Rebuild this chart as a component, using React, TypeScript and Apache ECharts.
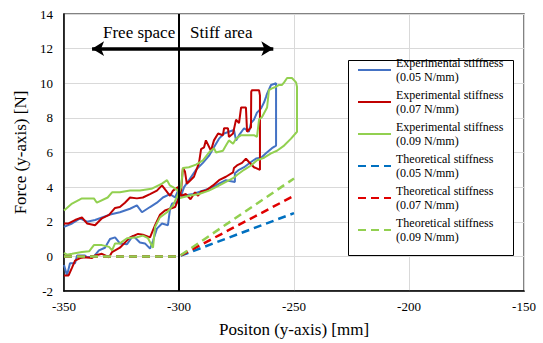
import React, { useEffect, useRef } from 'react';
import * as echarts from 'echarts';

const seriesNames = [
  'Experimental stiffness\n(0.05 N/mm)',
  'Experimental stiffness\n(0.07 N/mm)',
  'Experimental stiffness\n(0.09 N/mm)',
  'Theoretical stiffness\n(0.05 N/mm)',
  'Theoretical stiffness\n(0.07 N/mm)',
  'Theoretical stiffness\n(0.09 N/mm)',
];

const seriesColors = ['#4472C4', '#C00000', '#92D050', '#0070C0', '#E00000', '#92D050'];

// Experimental 0.05 N/mm (loop: forward lower-left, upper-right, drop, lower-right, upper-left)
const blueExp: [number, number][] = [
  [-350, -0.5], [-348.7, -1.1], [-347.4, -0.4], [-345.2, -0.4], [-344.3, 0.05], [-340.9, 0.05],
  [-340, -0.05], [-337, 0], [-334.8, 0.35], [-332.2, 0.5], [-330, 1.0], [-327.8, 1.1],
  [-325.7, 0.75], [-322.6, 0.7], [-320, 1.2], [-317, 0.8], [-314.8, 0.75], [-312.6, 0.45],
  [-311.3, 0.9], [-309.6, 1.6], [-307.4, 1.9], [-304.8, 1.8], [-303.9, 2.75], [-303, 3.05],
  [-300.9, 3.1], [-300, 3.6],
  [-299.1, 3.5], [-297.8, 4.0], [-295.7, 4.4], [-292.6, 5.0], [-289.6, 5.4], [-287, 5.8],
  [-284.8, 6.3], [-282.6, 6.8], [-280.4, 7.1], [-278.3, 7.2], [-276.1, 7.3], [-275.2, 6.7],
  [-273.9, 7.0], [-271.7, 7.4], [-269.6, 7.2], [-268.7, 7.7], [-267.4, 7.9], [-266.1, 8.3],
  [-264.3, 8.55], [-263, 8.9], [-262.2, 9.2], [-261.7, 9.4], [-260, 9.9], [-257.8, 10.0],
  [-257.8, 6.4],
  [-259.6, 6.25], [-262.2, 5.95], [-264.3, 5.7], [-266.5, 5.65], [-268.7, 5.45], [-271.7, 5.15],
  [-273.9, 5.0], [-275.7, 4.8], [-275.7, 4.3], [-279.6, 4.4], [-282.6, 4.2], [-285.2, 4.0],
  [-289.6, 3.8], [-293.9, 3.6], [-298.3, 3.5], [-300, 3.6],
  [-300.4, 3.8], [-301.7, 3.4], [-303.9, 3.6], [-307, 3.4], [-309.6, 3.1], [-312.6, 2.85],
  [-316.1, 2.55], [-318.3, 2.95], [-321.3, 2.75], [-325.7, 2.55], [-330.4, 2.4], [-336.5, 2.1],
  [-340, 2.0], [-343, 2.2], [-346.5, 1.9], [-350, 1.7],
];

// Experimental 0.07 N/mm
const redExp: [number, number][] = [
  [-350, -1.1], [-348, -1.1], [-346.5, -0.65], [-345.2, -0.25], [-343, -0.1], [-340.9, -0.05],
  [-337.8, -0.1], [-336.5, 0.05], [-333.5, 0.15], [-330.4, -0.05], [-329.1, 0.25], [-325.7, 0.5],
  [-321.3, 1.1], [-317.8, 1.3], [-315.7, 1.25], [-312.6, 1.1], [-310.4, 1.8], [-308.3, 2.4],
  [-306.1, 2.65], [-303.9, 2.75], [-301.7, 2.85], [-300, 3.4],
  [-299.1, 3.8], [-298.3, 5.1], [-297.4, 4.9], [-296.6, 4.2], [-295, 4.4], [-293.5, 4.6],
  [-291.3, 5.4], [-290.4, 6.2],
  [-289.1, 6.3], [-288.3, 6.7], [-286.1, 6.1], [-284.8, 6.7], [-283, 7.1], [-280.9, 7.0],
  [-280.4, 7.4], [-278.7, 7.4], [-278.3, 6.9], [-276.5, 7.1], [-275.2, 7.9], [-273.9, 7.7],
  [-273, 8.6], [-270.9, 8.6], [-270.4, 7.2], [-268.7, 7.45], [-268.6, 9.5], [-268.3, 9.6],
  [-265.2, 9.6], [-264.8, 9.3],
  [-264.8, 5.0],
  [-267.4, 5.15], [-269.6, 5.45], [-270.9, 5.65], [-272.6, 5.4], [-274.8, 5.25], [-276.1, 5.1],
  [-276.5, 4.85], [-279.6, 4.6], [-282.6, 4.4], [-285.2, 4.1], [-288.3, 3.8], [-290.4, 3.75],
  [-291.7, 3.5], [-293, 3.7], [-295, 3.3], [-297, 3.6], [-299, 3.5], [-300, 3.9],
  [-300.4, 4.0], [-302.6, 3.8], [-303.9, 3.5], [-307.4, 4.1], [-309.6, 3.8], [-312.6, 3.6],
  [-315.7, 3.4], [-318.3, 3.35], [-321.3, 3.4], [-323.5, 3.1], [-325.7, 2.85], [-327.8, 2.8],
  [-330.4, 2.4], [-333.5, 2.2], [-336.5, 1.8], [-340, 1.9], [-342.2, 2.25], [-345.2, 2.1],
  [-348, 1.9], [-350, 1.9],
];

// Experimental 0.09 N/mm
const greenExp: [number, number][] = [
  [-350, 0.2], [-348.7, 0.1], [-346.5, 0.15], [-342.2, 0.25], [-339, 0.3], [-337, 0.65],
  [-333.5, 0.65], [-330.4, 0.55], [-329.1, 0.35], [-327.8, 0.75], [-325.7, 0.75], [-322.6, 1.05],
  [-318.3, 1.1], [-315.7, 1.2], [-313.5, 1.05], [-311.3, 0.5], [-310.4, 1.7], [-308.3, 2.25],
  [-305.2, 2.55], [-302.6, 2.95], [-300, 3.7],
  [-299.1, 4.0], [-298.3, 5.1], [-295.7, 5.15], [-292.6, 5.3], [-289.6, 5.55], [-287, 6.0],
  [-284.8, 6.25], [-283.9, 6.0], [-280.9, 6.1], [-279.6, 6.4], [-278.3, 6.7], [-276.5, 6.5],
  [-275.2, 6.8], [-273, 7.0], [-267.4, 7.0], [-266.1, 6.9], [-265.2, 7.9], [-263.9, 8.05],
  [-261.7, 8.6], [-260.9, 9.6], [-259.6, 9.7], [-257.8, 9.8], [-256.5, 9.9], [-255.2, 9.9],
  [-254.3, 10.05], [-253, 10.3], [-250.9, 10.3], [-249.1, 10.05], [-248.7, 9.8],
  [-248.7, 7.2],
  [-251.3, 6.8], [-254.3, 6.4], [-257.4, 6.1], [-260, 5.95], [-263, 5.7], [-266.1, 5.55],
  [-268.7, 5.25], [-271.7, 5.0], [-274.8, 4.7], [-276.1, 4.55], [-279.6, 4.3], [-283.9, 4.0],
  [-287, 3.8], [-291.3, 3.6], [-295.7, 3.5], [-300, 3.35],
  [-300.4, 3.8], [-302.6, 4.0], [-304, 4.1], [-305.2, 4.4], [-307.4, 4.2], [-312, 3.9],
  [-317, 3.8], [-321.3, 3.8], [-325.7, 3.7], [-329.1, 3.7], [-331, 3.4], [-335.7, 3.1],
  [-337, 3.35], [-342.2, 3.35], [-346.5, 3.05], [-350, 2.65],
];

// Theoretical lines
const blueTheo: [number, number][] = [[-350, 0], [-300, 0], [-250, 2.5]];
const redTheo: [number, number][] = [[-350, 0], [-300, 0], [-250, 3.5]];
const greenTheo: [number, number][] = [[-350, 0], [-300, 0], [-250, 4.5]];

const boundaryX = -300;
const arrowY = 12;
const arrowFrom = -337.8;
const arrowTo = -259;

const FONT = 'Liberation Serif';

export default function App() {
  const ref = useRef<HTMLDivElement>(null);
  useEffect(() => {
    if (!ref.current) return;
    const chart = echarts.init(ref.current, null, { renderer: 'svg' });
    const expData = [blueExp, redExp, greenExp];
    const theoData = [blueTheo, redTheo, greenTheo];
    const series: any[] = [];
    expData.forEach((d, i) => {
      series.push({
        type: 'line',
        name: seriesNames[i],
        data: d,
        symbol: 'none',
        color: seriesColors[i],
        lineStyle: { color: seriesColors[i], width: 2 },
        z: 2 + i * 0.01,
      });
    });
    theoData.forEach((d, i) => {
      series.push({
        type: 'line',
        name: seriesNames[i + 3],
        data: d,
        symbol: 'none',
        color: seriesColors[i + 3],
        lineStyle: { color: seriesColors[i + 3], width: 2.5, type: [8, 5] },
        z: 3 + i * 0.01,
      });
    });
    series[5].markLine = {
      silent: true,
      symbol: 'none',
      label: { show: false },
      lineStyle: { color: '#000', width: 2, type: 'solid' },
      data: [{ xAxis: boundaryX }],
    };
    series[4].markLine = {
      silent: true,
      symbol: ['arrow', 'arrow'],
      symbolSize: [11, 12],
      label: { show: false },
      lineStyle: { color: '#000', width: 3.5, type: 'solid' },
      itemStyle: { color: '#000' },
      data: [[{ coord: [arrowFrom, arrowY] }, { coord: [arrowTo, arrowY] }]],
    };

    chart.setOption({
      animation: false,
      backgroundColor: '#ffffff',
      textStyle: { fontFamily: FONT },
      grid: {
        left: 64,
        top: 14,
        width: 460,
        height: 277,
        show: true,
        borderColor: '#595959',
        borderWidth: 1.5,
      },
      xAxis: {
        type: 'value',
        min: -350,
        max: -150,
        interval: 50,
        name: 'Positon (y-axis) [mm]',
        nameLocation: 'middle',
        nameGap: 30,
        nameTextStyle: { fontSize: 17, color: '#000', fontFamily: FONT },
        axisLine: { onZero: false, lineStyle: { color: '#000', width: 1.5 } },
        axisTick: { show: false },
        axisLabel: { fontSize: 13, color: '#000', margin: 9, fontFamily: FONT },
        splitLine: { show: true, lineStyle: { color: '#D9D9D9', width: 1 } },
      },
      yAxis: {
        type: 'value',
        min: -2,
        max: 14,
        interval: 2,
        name: 'Force (y-axis) [N]',
        nameLocation: 'middle',
        nameGap: 32,
        nameRotate: 90,
        nameTextStyle: { fontSize: 17, color: '#000', fontFamily: FONT },
        axisLine: { onZero: false, lineStyle: { color: '#000', width: 1.5 } },
        axisTick: { show: false },
        axisLabel: { fontSize: 13, color: '#000', margin: 11, fontFamily: FONT },
        splitLine: { show: true, lineStyle: { color: '#D9D9D9', width: 1 } },
      },
      legend: {
        orient: 'vertical',
        left: 357,
        top: 49,
        padding: 0,
        itemWidth: 33,
        itemHeight: 14,
        itemGap: -10,
        selectedMode: false,
        data: seriesNames,
        itemStyle: { opacity: 0 },
        textStyle: {
          fontSize: 12,
          lineHeight: 14,
          color: '#000',
          fontFamily: FONT,
          padding: [14, 0, 0, 0],
        },
        z: 10,
      },
      graphic: [
        {
          type: 'rect',
          left: 348,
          top: 60,
          z: 5,
          shape: { width: 165, height: 195 },
          style: { fill: '#ffffff', stroke: '#000', lineWidth: 1 },
        },
        {
          type: 'text',
          left: 103,
          top: 24,
          z: 6,
          style: { text: 'Free space', font: '17px Liberation Serif', fill: '#000' },
        },
        {
          type: 'text',
          left: 190,
          top: 24,
          z: 6,
          style: { text: 'Stiff area', font: '17px Liberation Serif', fill: '#000' },
        },
      ],
      series,
    });
    return () => chart.dispose();
  }, []);
  return (
    <div
      ref={ref}
      style={{ position: 'absolute', left: 0, top: 0, width: 543, height: 343 }}
    />
  );
}
